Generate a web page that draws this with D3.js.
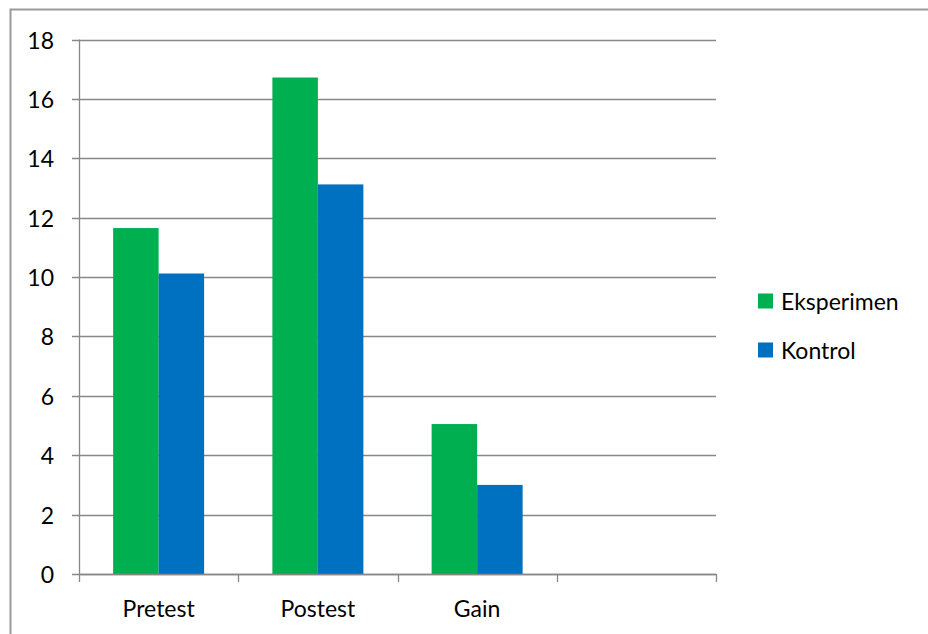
<!DOCTYPE html>
<html>
<head>
<meta charset="utf-8">
<script src="https://cdn.jsdelivr.net/npm/d3@7"></script>
<style>
  html, body { margin: 0; padding: 0; background: #fff; }
  svg { display: block; }
  text { font-family: Lato, "Open Sans", sans-serif; fill: #000; }
</style>
</head>
<body>
<svg id="chart" width="928" height="634"></svg>
<script>
// Average scores per test phase
const categories = ["Pretest", "Postest", "Gain"];
const seriesNames = ["Eksperimen", "Kontrol"];
const eksperimen = [11.65, 16.72, 5.05];
const kontrol = [10.12, 13.12, 3.0];
const yTicks = [0, 2, 4, 6, 8, 10, 12, 14, 16, 18];
const colors = ["#00B050", "#0070C0"];

const values = [eksperimen, kontrol];
const rows = categories.map((c, i) => ({
  category: c,
  bars: seriesNames.map((s, j) => ({ series: s, value: values[j][i] }))
}));

const svg = d3.select("#chart");
const fontSize = "23px";

// outer chart frame
svg.append("rect")
  .attr("x", 10.5).attr("y", 9.5)
  .attr("width", 940).attr("height", 640)
  .attr("fill", "none").attr("stroke", "#9a9a9a").attr("stroke-width", 2);

const plot = { left: 79, right: 716, top: 39.5, bottom: 574 };

// four category slots on the axis, the last one left empty
const slots = [...categories, ""];
const x = d3.scaleBand().domain(d3.range(slots.length)).range([plot.left, plot.right]);
const xSub = d3.scaleBand().domain(seriesNames).range([0, x.bandwidth()]).paddingOuter(0.75);
const y = d3.scaleLinear().domain([0, 18]).range([plot.bottom, plot.top]);

// horizontal gridlines with small ticks left of the axis
svg.append("g").selectAll("line").data(yTicks).join("line")
  .attr("x1", plot.left - 7).attr("x2", plot.right)
  .attr("y1", d => Math.round(y(d)) + 0.5).attr("y2", d => Math.round(y(d)) + 0.5)
  .attr("stroke", "#888").attr("stroke-width", 1.3);

svg.append("g").selectAll("text").data(yTicks).join("text")
  .attr("x", 54).attr("y", d => y(d))
  .attr("text-anchor", "end").attr("dominant-baseline", "central")
  .style("font-size", fontSize)
  .text(d => d);

// bars
const groups = svg.append("g").selectAll("g").data(rows).join("g")
  .attr("transform", (d, i) => `translate(${x(i)},0)`);
groups.selectAll("rect").data(d => d.bars).join("rect")
  .attr("x", d => xSub(d.series)).attr("width", xSub.bandwidth())
  .attr("y", d => y(d.value)).attr("height", d => y(0) - y(d.value))
  .attr("fill", (d, j) => colors[j]);

// vertical axis line
svg.append("line")
  .attr("x1", plot.left + 0.5).attr("x2", plot.left + 0.5)
  .attr("y1", plot.top).attr("y2", plot.bottom)
  .attr("stroke", "#888").attr("stroke-width", 1.3);

// horizontal axis with tick marks at slot boundaries
const bounds = d3.range(slots.length + 1).map(i => plot.left + i * x.step());
svg.append("line")
  .attr("x1", plot.left).attr("x2", plot.right)
  .attr("y1", plot.bottom + 0.5).attr("y2", plot.bottom + 0.5)
  .attr("stroke", "#888").attr("stroke-width", 1.5);
svg.append("g").selectAll("line").data(bounds).join("line")
  .attr("x1", d => Math.round(d) + 0.5).attr("x2", d => Math.round(d) + 0.5)
  .attr("y1", plot.bottom).attr("y2", plot.bottom + 8)
  .attr("stroke", "#888").attr("stroke-width", 1.3);

svg.append("g").selectAll("text").data(slots).join("text")
  .attr("x", (d, i) => x(i) + x.bandwidth() / 2).attr("y", 617)
  .attr("text-anchor", "middle")
  .style("font-size", fontSize)
  .text(d => d);

// legend
const legend = svg.append("g").selectAll("g").data(seriesNames).join("g")
  .attr("transform", (d, i) => `translate(758,${301 + i * 49})`);
legend.append("rect")
  .attr("x", 0).attr("y", -7.5).attr("width", 15).attr("height", 15)
  .attr("fill", (d, i) => colors[i]);
legend.append("text")
  .attr("x", 23).attr("y", 0).attr("dominant-baseline", "central")
  .style("font-size", fontSize)
  .text(d => d);
</script>
</body>
</html>
